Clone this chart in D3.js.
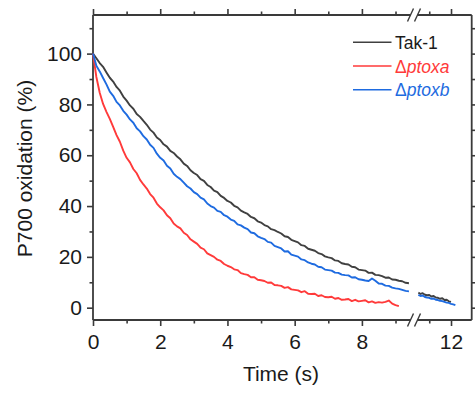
<!DOCTYPE html>
<html>
<head>
<meta charset="utf-8">
<script src="https://cdn.jsdelivr.net/npm/d3@7"></script>
<style>
  body { margin: 0; background: #fff; }
  svg text { font-family: "Liberation Sans", Arial, sans-serif; fill: #1a1a1a; }
</style>
</head>
<body>
<div id="chart"></div>
<script>
const dt = 0.1;
const leftStart = 0;
const rightStart = 10.5;

const tak1Left = [100,
  98.2, 96.3, 94.8, 92.6, 90.5,  89.0, 86.9, 85.4, 83.1, 81.5,
  79.6, 78.3, 76.2, 75.1, 73.5,  72.0, 70.1, 68.9, 67.0, 66.0,
  64.3, 63.4, 61.7, 60.9, 59.5,  58.4, 56.7, 55.8, 54.1, 53.0,
  52.2, 50.6, 49.9, 48.3, 47.5,  46.1, 45.5, 44.0, 43.2, 42.0,
  41.4, 40.1, 39.5, 38.2, 37.5,  36.9, 35.7, 35.2, 34.0, 33.5,
  32.5, 32.0, 30.9, 30.5, 29.8,  29.2, 28.1, 27.8, 26.7, 26.2,
  25.7, 24.6, 24.3, 23.2, 22.8,  22.4, 21.5, 21.1, 20.2, 19.8,
  19.5, 18.6, 18.4, 17.5, 17.2,  17.0, 16.1, 15.9, 15.0, 14.8,
  14.6, 13.7, 13.8, 12.9, 12.8,  12.4, 11.8, 11.9, 11.1, 11.0,
  10.6, 10.4, 9.8, 9.6];
const ptoxaLeft = [100,
  90.8, 84.6, 80.2, 77.1, 74.3,  71.2, 67.9, 65.3, 61.8, 59.0,
  57.2, 54.6, 52.9, 50.3, 48.5,  46.9, 44.7, 43.3, 41.0, 39.5,
  38.3, 36.4, 35.2, 33.1, 32.0,  31.2, 29.5, 28.6, 26.9, 26.0,
  25.1, 23.6, 23.0, 21.4, 20.7,  20.0, 18.9, 18.4, 17.2, 16.5,
  16.0, 15.1, 14.8, 13.6, 13.2,  12.9, 12.0, 12.0, 11.0, 10.8,
  10.5, 9.8, 9.9, 8.9, 8.8,      8.6, 7.8, 8.1, 7.2, 7.0,
  6.8, 6.1, 6.5, 5.5, 5.4,       5.5, 4.6, 4.9, 4.2, 4.1,
  4.3, 3.5, 3.8, 3.1, 3.2,       3.4, 2.6, 3.1, 2.5, 2.7,
  2.9, 2.1, 2.5, 1.9, 2.2,       2.0, 2.3, 2.8, 1.6, 1.0,
  0.6];
const ptoxbLeft = [100,
  95.2, 93.0, 90.4, 87.9, 85.0,  83.4, 81.0, 79.6, 77.5, 76.0,
  74.1, 72.8, 70.6, 69.4, 67.5,  66.2, 64.1, 62.9, 60.6, 59.0,
  57.9, 55.9, 54.8, 52.7, 51.5,  50.6, 49.2, 47.8, 46.9, 45.5,
  44.7, 43.3, 42.6, 41.0, 40.0,  39.4, 38.1, 37.7, 36.4, 35.8,
  34.7, 34.2, 32.8, 32.4, 31.5,  30.9, 29.6, 29.3, 28.1, 27.5,
  27.0, 25.9, 25.6, 24.3, 23.8,  23.3, 22.1, 22.2, 20.9, 20.5,
  20.1, 19.0, 18.7, 17.8, 17.3,  17.0, 16.1, 15.9, 15.0, 14.8,
  14.6, 13.8, 13.7, 13.0, 12.8,  12.7, 11.9, 12.0, 11.2, 11.0,
  10.7, 10.5, 11.5, 10.6, 9.5,   9.4, 8.7, 8.6, 7.9, 7.6,
  7.4, 7.0, 6.6, 6.4];
const tak1Right = [5.9, 5.4, 5.7, 5.1, 4.9, 5.0, 4.4, 4.6, 4.0, 3.9, 3.5, 3.7, 3.0, 3.1, 2.5, 2.3];
const ptoxbRight = [5.0, 4.6, 4.8, 4.2, 4.0, 3.9, 3.5, 3.6, 3.1, 3.0, 2.7, 2.6, 2.3, 2.0, 1.9, 1.5, 1.3, 1.0];

const seriesNames = ["Tak-1", "ptoxa", "ptoxb"];
const seriesColors = ["#404040", "#ff3a3a", "#1e6be0"];

const yMajor = [0, 20, 40, 60, 80, 100];
const yMinor = [10, 30, 50, 70, 90, 110];
const xMajorLeft = [0, 2, 4, 6, 8];
const xMinorLeft = [1, 3, 5, 7, 9];
const xMajorRight = [12];
const xMinorRight = [11];

const W = 475, H = 397;
const margin = {left: 93, top: 15, right: 3.3, bottom: 77};
const iw = W - margin.left - margin.right;
const ih = H - margin.top - margin.bottom;
const brk = 321;

const x1 = d3.scaleLinear().domain([0, 9.55]).range([0, brk]);
const x2 = d3.scaleLinear().domain([10.3, 12.95]).range([brk, iw]);
const y = d3.scaleLinear().domain([-4.85, 115.2]).range([ih, 0]);

const svg = d3.select("#chart").append("svg")
  .attr("width", W).attr("height", H);
svg.append("rect").attr("width", W).attr("height", H).attr("fill", "#fff");
const g = svg.append("g").attr("transform", `translate(${margin.left},${margin.top})`);

const axisColor = "#3a3a3a";
const fs = 21;
function styleAxis(sel) {
  sel.select(".domain").remove();
  sel.selectAll(".tick line").attr("stroke", axisColor).attr("stroke-width", 1.6);
  sel.selectAll(".tick text").attr("font-size", fs).attr("fill", "#1a1a1a");
}

// y axes
g.append("g").call(d3.axisLeft(y).tickValues(yMajor).tickSize(6).tickPadding(5)).call(styleAxis);
g.append("g").call(d3.axisLeft(y).tickValues(yMinor).tickSize(3.5).tickFormat("")).call(styleAxis);
g.append("g").attr("transform", `translate(${iw},0)`)
  .call(d3.axisRight(y).tickValues(yMajor.concat(yMinor)).tickSize(3.5).tickFormat("")).call(styleAxis);

// x axes, bottom and top, in two pieces around the break
function xAxes(scale, major, minor) {
  g.append("g").attr("transform", `translate(0,${ih})`)
    .call(d3.axisBottom(scale).tickValues(major).tickSize(6).tickPadding(8).tickFormat(d3.format("d"))).call(styleAxis);
  g.append("g").attr("transform", `translate(0,${ih})`)
    .call(d3.axisBottom(scale).tickValues(minor).tickSize(3.5).tickFormat("")).call(styleAxis);
  g.append("g").call(d3.axisTop(scale).tickValues(major).tickSize(6).tickFormat("")).call(styleAxis);
  g.append("g").call(d3.axisTop(scale).tickValues(minor).tickSize(3.5).tickFormat("")).call(styleAxis);
}
xAxes(x1, xMajorLeft, xMinorLeft);
xAxes(x2, xMajorRight, xMinorRight);

// frame
const gap = 3.5;
const frame = g.append("g").attr("stroke", axisColor).attr("stroke-width", 1.8).attr("fill", "none");
frame.append("line").attr("x1", 0).attr("x2", 0).attr("y1", 0).attr("y2", ih);
frame.append("line").attr("x1", iw).attr("x2", iw).attr("y1", 0).attr("y2", ih);
[0, ih].forEach(yy => {
  frame.append("line").attr("x1", 0).attr("x2", brk - gap).attr("y1", yy).attr("y2", yy);
  frame.append("line").attr("x1", brk + gap).attr("x2", iw).attr("y1", yy).attr("y2", yy);
  [-gap, gap].forEach(o => {
    frame.append("line").attr("stroke-width", 1.4)
      .attr("x1", brk + o - 3).attr("y1", yy + 6.5)
      .attr("x2", brk + o + 3).attr("y2", yy - 6.5);
  });
});

// traces
function toPts(vals, t0) { return vals.map((v, i) => [t0 + i * dt, v]); }
const lineL = d3.line().x(d => x1(d[0])).y(d => y(d[1]));
const lineR = d3.line().x(d => x2(d[0])).y(d => y(d[1]));
const traces = [
  {pts: toPts(tak1Left, leftStart), line: lineL, c: 0},
  {pts: toPts(ptoxaLeft, leftStart), line: lineL, c: 1},
  {pts: toPts(ptoxbLeft, leftStart), line: lineL, c: 2},
  {pts: toPts(tak1Right, rightStart), line: lineR, c: 0},
  {pts: toPts(ptoxbRight, rightStart), line: lineR, c: 2}
];
g.selectAll("path.trace").data(traces).enter().append("path")
  .attr("class", "trace")
  .attr("d", d => d.line(d.pts))
  .attr("fill", "none")
  .attr("stroke", d => seriesColors[d.c])
  .attr("stroke-width", 1.9)
  .attr("stroke-linejoin", "round");

// axis titles
svg.append("text").attr("x", 281).attr("y", 381).attr("text-anchor", "middle")
  .attr("font-size", fs).text("Time (s)");
svg.append("text").attr("transform", "translate(32,168.5) rotate(-90)")
  .attr("text-anchor", "middle").attr("font-size", fs).text("P700 oxidation (%)");

// legend
const lg = svg.append("g").attr("transform", "translate(353,42.3)");
seriesNames.forEach((name, i) => {
  const row = lg.append("g").attr("transform", `translate(0,${i * 23.7})`);
  row.append("line").attr("x1", 0).attr("x2", 38.5).attr("y1", 0).attr("y2", 0)
    .attr("stroke", seriesColors[i]).attr("stroke-width", 1.6);
  const t = row.append("text").attr("x", 42).attr("y", 6.5).attr("font-size", 17.5)
    .style("fill", i === 0 ? "#1a1a1a" : seriesColors[i]);
  if (i === 0) t.text(name);
  else {
    t.append("tspan").text("Δ");
    t.append("tspan").attr("font-style", "italic").text(name);
  }
});
</script>
</body>
</html>
